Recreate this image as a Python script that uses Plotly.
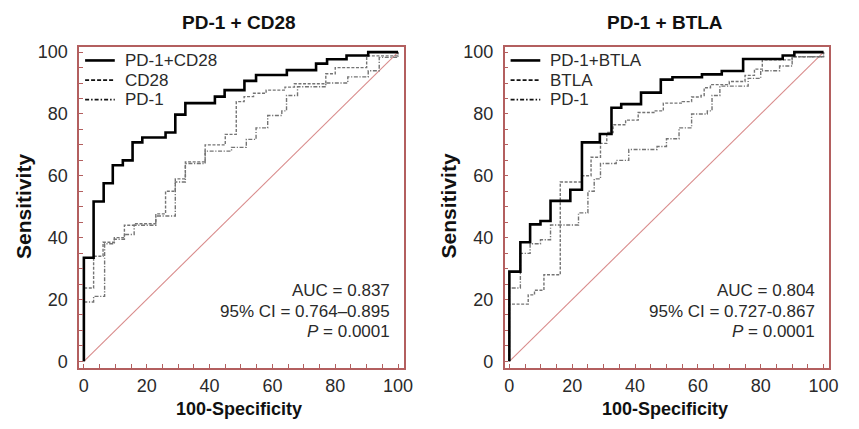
import plotly.graph_objects as go

# ---------------- data ----------------
# Left panel: PD-1 + CD28
cd28_combo_x = [0, 0, 3.1, 6.3, 9.2, 12.4, 15.5, 18.6, 26.0, 29.1, 32.3, 41.7, 44.8, 51.1, 54.8, 64.6, 73.9, 77.4, 83.6, 90.5, 100]
cd28_combo_y = [0, 33.5, 51.7, 57.6, 63.4, 65.0, 70.8, 72.4, 74.0, 79.8, 83.5, 85.6, 87.7, 90.7, 92.6, 94.2, 96.3, 97.7, 98.9, 100, 100]

cd28_x = [0, 0, 3.1, 6.1, 9.7, 12.9, 16.0, 22.9, 26.0, 29.1, 32.3, 38.6, 45.0, 48.5, 51.0, 54.0, 58.0, 64.0, 67.0, 77.0, 80.0, 90.0, 100, 100]
cd28_y = [0, 23.7, 34.0, 38.5, 40.0, 44.0, 44.5, 47.7, 55.0, 59.0, 64.5, 70.0, 73.4, 84.0, 85.6, 86.7, 87.7, 88.7, 89.8, 93.0, 95.0, 98.8, 99.0, 100]

pd1_left_x = [0, 0, 3.1, 6.6, 9.7, 12.9, 16.0, 22.9, 29.1, 32.3, 38.6, 47.0, 51.7, 54.8, 58.5, 63.0, 64.5, 68.0, 77.0, 84.0, 90.5, 94.0, 100, 100]
pd1_left_y = [0, 19.2, 21.0, 38.0, 39.5, 41.0, 44.0, 47.0, 58.0, 64.0, 68.0, 69.2, 71.8, 75.5, 79.5, 81.0, 86.0, 88.8, 90.0, 92.0, 94.0, 98.3, 99.0, 100]

# Right panel: PD-1 + BTLA
btla_combo_x = [0, 0, 3.5, 6.6, 9.9, 13.1, 19.4, 23.1, 28.8, 32.5, 35.6, 41.9, 48.2, 51.9, 61.3, 67.6, 74.4, 87.0, 90.7, 100]
btla_combo_y = [0, 29.0, 38.5, 44.3, 45.4, 51.9, 55.5, 70.8, 73.5, 82.0, 83.2, 86.9, 91.1, 91.9, 92.8, 93.9, 97.8, 98.9, 100, 100]

btla_x = [0, 0, 6.0, 8.0, 11.0, 16.2, 23.0, 26.0, 29.0, 31.0, 33.0, 37.0, 41.0, 46.0, 49.0, 55.0, 58.0, 61.0, 62.0, 64.0, 70.0, 75.0, 78.0, 80.5, 90.0, 100, 100]
btla_y = [0, 18.5, 21.5, 23.0, 28.0, 58.0, 60.0, 66.0, 70.5, 74.0, 76.5, 78.0, 80.5, 81.0, 83.5, 84.0, 85.5, 86.0, 88.5, 89.5, 90.5, 92.5, 94.5, 97.5, 98.5, 99.0, 100]

pd1_right_x = [0, 0, 3.5, 6.6, 9.9, 13.1, 22.0, 25.0, 27.0, 29.0, 34.0, 38.0, 47.0, 50.0, 54.0, 58.0, 63.0, 64.5, 67.0, 76.0, 80.0, 86.0, 90.0, 100, 100]
pd1_right_y = [0, 23.7, 34.9, 38.0, 39.3, 44.1, 48.0, 55.0, 59.0, 64.0, 65.0, 68.5, 69.5, 72.0, 75.5, 80.0, 81.0, 86.0, 89.0, 91.5, 94.0, 95.5, 98.5, 99.0, 100]

diag_x = [0, 100]
diag_y = [0, 100]

panel_titles = ["PD-1 + CD28", "PD-1 + BTLA"]
legend_names = [["PD-1+CD28", "CD28", "PD-1"], ["PD-1+BTLA", "BTLA", "PD-1"]]
stats = [["AUC = 0.837", "95% CI = 0.764\u20130.895", "<i>P</i> = 0.0001"],
         ["AUC = 0.804", "95% CI = 0.727-0.867", "<i>P</i> = 0.0001"]]
tick_vals = [0, 20, 40, 60, 80, 100]

# ---------------- styling ----------------
W, H = 859, 429
FONT = "Liberation Sans, Arial, sans-serif"
FRAME = "#b35f5f"
DIAG = "#d98c8c"
TXT = "#2a2a2a"
GRAY = "#747474"
DASH_A = "3px,1.6px"
DASH_B = "4px,1.6px,1.2px,1.6px"

panels = [
    dict(x0=80, x1=408, xa="x", ya="y"),
    dict(x0=510, x1=838, xa="x2", ya="y2"),
]
ytop, ybot = 43, 370

fig = go.Figure()

series = [
    (cd28_combo_x, cd28_combo_y, cd28_x, cd28_y, pd1_left_x, pd1_left_y),
    (btla_combo_x, btla_combo_y, btla_x, btla_y, pd1_right_x, pd1_right_y),
]

for i, (cx, cy, mx, my, px, py) in enumerate(series):
    xa, ya = panels[i]["xa"], panels[i]["ya"]
    fig.add_trace(go.Scatter(x=diag_x, y=diag_y, mode="lines", xaxis=xa, yaxis=ya,
                             line=dict(color=DIAG, width=1.1), showlegend=False, hoverinfo="skip"))
    fig.add_trace(go.Scatter(x=px, y=py, mode="lines", xaxis=xa, yaxis=ya, line_shape="hv",
                             line=dict(color=GRAY, width=1.4, dash=DASH_B), showlegend=False,
                             name=legend_names[i][2]))
    fig.add_trace(go.Scatter(x=mx, y=my, mode="lines", xaxis=xa, yaxis=ya, line_shape="hv",
                             line=dict(color=GRAY, width=1.4, dash=DASH_A), showlegend=False,
                             name=legend_names[i][1]))
    fig.add_trace(go.Scatter(x=cx, y=cy, mode="lines", xaxis=xa, yaxis=ya, line_shape="hv",
                             line=dict(color="#000000", width=2.6), showlegend=False,
                             name=legend_names[i][0]))

axis_common = dict(
    showline=True, mirror=True, linecolor=FRAME, linewidth=1.6,
    ticks="inside", ticklen=4, tickcolor=FRAME, tickwidth=1,
    tickvals=tick_vals, showgrid=False, zeroline=False,
    minor=dict(ticks="inside", dtick=5, tick0=0, ticklen=4, tickcolor=FRAME, tickwidth=1, showgrid=False),
    tickfont=dict(family=FONT, size=18, color=TXT),
)

dom_y = [1 - ybot / H, 1 - ytop / H]
layout = dict(
    width=W, height=H, margin=dict(l=0, r=0, t=0, b=0),
    paper_bgcolor="white", plot_bgcolor="white", showlegend=False,
)
for i, p in enumerate(panels):
    sfx = "" if i == 0 else "2"
    layout["xaxis" + sfx] = dict(axis_common, domain=[p["x0"] / W, p["x1"] / W], range=[-1.5, 101.8],
                                 anchor="y" + sfx, ticklabelstandoff=0)
    layout["yaxis" + sfx] = dict(axis_common, domain=dom_y, range=[-2.2, 101.6],
                                 anchor="x" + sfx, ticklabelstandoff=6)
fig.update_layout(**layout)

annotations = []
shapes = []
for i, p in enumerate(panels):
    cx_px = (p["x0"] + p["x1"]) / 2
    # title
    annotations.append(dict(text="<b>%s</b>" % panel_titles[i], x=(cx_px - 2) / W, y=1 - 18 / H,
                            xref="paper", yref="paper", showarrow=False, xanchor="center", yanchor="middle",
                            font=dict(family=FONT, size=19, color="#111")))
    # x-axis title
    annotations.append(dict(text="<b>100-Specificity</b>", x=(cx_px - 2) / W, y=1 - 412 / H,
                            xref="paper", yref="paper", showarrow=False, xanchor="center", yanchor="middle",
                            font=dict(family=FONT, size=18, color="#111")))
    # y-axis title
    annotations.append(dict(text="<b>Sensitivity</b>", x=(p["x0"] - 57) / W, y=1 - 205 / H,
                            xref="paper", yref="paper", showarrow=False, xanchor="center", yanchor="middle",
                            textangle=-90, font=dict(family=FONT, size=21, color="#111")))
    # stats
    for k, s in enumerate(stats[i]):
        annotations.append(dict(text=s, x=(p["x1"] - 12) / W, y=1 - (291 + 21 * k) / H,
                                xref="paper", yref="paper", showarrow=False, xanchor="right", yanchor="middle",
                                font=dict(family=FONT, size=17, color=TXT)))
    # manual legend
    styles = [dict(color="#000", width=2.6), dict(color="#111", width=1.8, dash="4px,2px"),
              dict(color="#111", width=1.8, dash="4px,2px,1.5px,2px")]
    for k in range(3):
        yy = 1 - (56.5 + 20 * k) / H
        shapes.append(dict(type="line", xref="paper", yref="paper",
                           x0=(p["x0"] + 6) / W, x1=(p["x0"] + 36) / W, y0=yy, y1=yy, line=styles[k]))
        annotations.append(dict(text=legend_names[i][k], x=(p["x0"] + 44) / W, y=yy,
                                xref="paper", yref="paper", showarrow=False, xanchor="left", yanchor="middle",
                                font=dict(family=FONT, size=17, color=TXT)))

fig.update_layout(annotations=annotations, shapes=shapes)
fig.write_html("out.html", config={"displayModeBar": False},
               post_script="document.body.style.margin='0';document.body.style.overflow='hidden';")
